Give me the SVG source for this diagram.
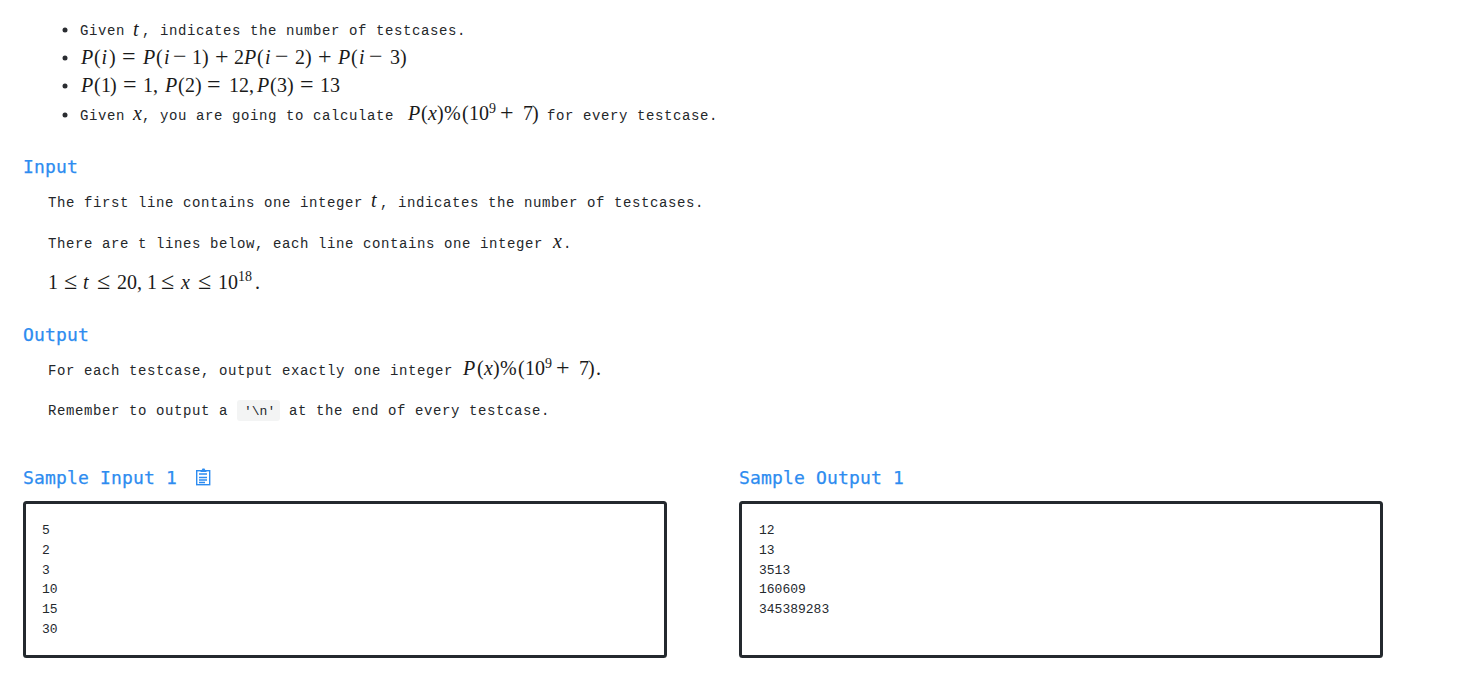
<svg xmlns="http://www.w3.org/2000/svg" width="1464" height="685" viewBox="0 0 1464 685">
<style>
text{white-space:pre}
.b{font-family:"Liberation Mono","DejaVu Sans Mono",monospace;font-size:14px;letter-spacing:.6px;fill:#24272b}
.m{font-family:"Liberation Serif","DejaVu Serif",serif;font-size:20px;fill:#1a1a1a}
.i{font-style:italic}
.s{font-size:14px}
.o{font-size:24px}
.h{font-family:"DejaVu Sans Mono","Liberation Mono",monospace;font-size:18px;letter-spacing:.17px;fill:#2d8cf0;stroke:#2d8cf0;stroke-width:.25px}
.c{font-family:"Liberation Mono",monospace;font-size:13px;fill:#24292e}
.box{fill:#fff;stroke:#24292e;stroke-width:3}
.bul{fill:#2a2d31}
</style>
<rect width="1464" height="685" fill="#fff"/>
<g id="statement-list">
<circle class="bul" cx="65" cy="30" r="2.5"/><circle class="bul" cx="65" cy="58" r="2.5"/><circle class="bul" cx="65" cy="86" r="2.5"/><circle class="bul" cx="65" cy="115" r="2.5"/>
<text class="b" x="80" y="35">Given</text><text class="m i" x="133" y="36">t</text><text class="b" x="142" y="35">, indicates the number of testcases.</text>
<text class="m" y="64"><tspan class="i" x="81">P</tspan><tspan x="94">(</tspan><tspan class="i" x="101.500">i</tspan><tspan x="109">)</tspan><tspan class="o" x="122">=</tspan><tspan class="i" x="143">P</tspan><tspan x="156">(</tspan><tspan class="i" x="164">i</tspan><tspan class="o" x="173">−</tspan><tspan x="192 202">1)</tspan><tspan class="o" x="215">+</tspan><tspan x="234">2</tspan><tspan class="i" x="244">P</tspan><tspan x="257">(</tspan><tspan class="i" x="265">i</tspan><tspan class="o" x="275">−</tspan><tspan x="295 305">2)</tspan><tspan class="o" x="318">+</tspan><tspan class="i" x="338">P</tspan><tspan x="351">(</tspan><tspan class="i" x="359">i</tspan><tspan class="o" x="369">−</tspan><tspan x="390 400">3)</tspan></text>
<text class="m" y="92"><tspan class="i" x="81">P</tspan><tspan x="94 101 110">(1)</tspan><tspan class="o" x="123">=</tspan><tspan x="143">1,</tspan><tspan class="i" x="165">P</tspan><tspan x="178 185 195">(2)</tspan><tspan class="o" x="207">=</tspan><tspan x="229">12,</tspan><tspan class="i" x="257">P</tspan><tspan x="270 277 287">(3)</tspan><tspan class="o" x="300">=</tspan><tspan x="320">13</tspan></text>
<text class="b" x="80" y="120">Given</text><text class="m i" x="133" y="120">x</text><text class="b" x="142" y="120">, you are going to calculate</text>
<text class="m" y="120"><tspan class="i" x="408">P</tspan><tspan x="421">(</tspan><tspan class="i" x="428">x</tspan><tspan x="437 444 462 469 479">)%(10</tspan><tspan class="s" x="489" y="113">9</tspan><tspan class="o" x="500" y="120">+</tspan><tspan x="523 532">7)</tspan></text>
<text class="b" x="547" y="120">for every testcase.</text>
</g>
<g id="input-section">
<text class="h" x="23" y="173">Input</text>
<text class="b" x="48" y="207">The first line contains one integer</text><text class="m i" x="371" y="207">t</text><text class="b" x="380" y="207">, indicates the number of testcases.</text>
<text class="b" x="48" y="248">There are t lines below, each line contains one integer</text><text class="m i" x="553" y="248">x</text><text class="b" x="563" y="248">.</text>
<text class="m" y="289"><tspan x="48">1</tspan><tspan class="o" x="64">≤</tspan><tspan class="i" x="83">t</tspan><tspan class="o" x="97">≤</tspan><tspan x="117">20,</tspan><tspan x="147">1</tspan><tspan class="o" x="161">≤</tspan><tspan class="i" x="181">x</tspan><tspan class="o" x="198">≤</tspan><tspan x="218">10</tspan><tspan class="s" x="238" y="281">18</tspan><tspan x="255" y="289">.</tspan></text>
</g>
<g id="output-section">
<text class="h" x="23" y="341">Output</text>
<text class="b" x="48" y="375">For each testcase, output exactly one integer</text>
<text class="m" y="375"><tspan class="i" x="463">P</tspan><tspan x="477">(</tspan><tspan class="i" x="484">x</tspan><tspan x="493 500 518 525 535">)%(10</tspan><tspan class="s" x="545" y="368">9</tspan><tspan class="o" x="556" y="375">+</tspan><tspan x="579 588 596">7).</tspan></text>
<text class="b" x="48" y="415">Remember to output a</text>
<rect x="237" y="400" width="43" height="21" rx="3" fill="#f3f4f4"/>
<text class="c" x="244" y="415">'\n'</text>
<text class="b" x="289" y="415">at the end of every testcase.</text>
</g>
<g id="sample-input">
<text class="h" x="23" y="484">Sample Input 1</text>
<g fill="none" stroke="#2d8cf0" stroke-width="1.4"><rect x="196.700" y="470.700" width="13" height="14"/><path d="M199 474h8M199 477.500h8M199 480h8M199 482.500h6"/></g>
<path d="M200 472l1.500-1.500 1-2h2l1 2 1.500 1.500z" fill="#2d8cf0"/>
<rect class="box" x="24.500" y="502.500" width="641" height="154" rx="2"/>
<text class="c" x="42" y="534">5</text><text class="c" x="42" y="554">2</text><text class="c" x="42" y="574">3</text><text class="c" x="42" y="593">10</text><text class="c" x="42" y="613">15</text><text class="c" x="42" y="633">30</text>
</g>
<g id="sample-output">
<text class="h" x="739" y="484">Sample Output 1</text>
<rect class="box" x="740.500" y="502.500" width="641" height="154" rx="2"/>
<text class="c" x="759" y="534">12</text><text class="c" x="759" y="554">13</text><text class="c" x="759" y="574">3513</text><text class="c" x="759" y="593">160609</text><text class="c" x="759" y="613">345389283</text>
</g>
</svg>
